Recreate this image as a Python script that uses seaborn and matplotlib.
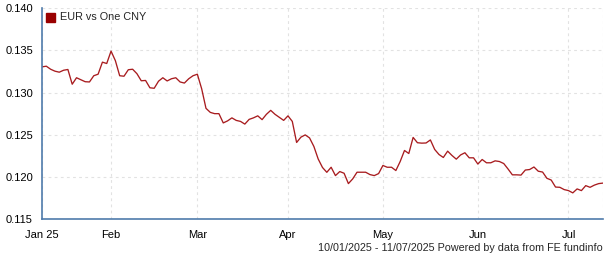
import numpy as np
import pandas as pd
import matplotlib
matplotlib.use("Agg")
import matplotlib.pyplot as plt
import seaborn as sns

# Trading days (weekdays) from 10 Jan 2025 to 11 Jul 2025
dates = pd.bdate_range("2025-01-10", "2025-07-11")

rate = [
    0.13305, 0.13313, 0.13277, 0.13254, 0.13242, 0.13265, 0.13274, 0.13099, 0.13176, 0.13152,
    0.13129, 0.13126, 0.13200, 0.13218, 0.13361, 0.13345, 0.13492, 0.13379, 0.13200, 0.13194,
    0.13271, 0.13277, 0.13224, 0.13140, 0.13144, 0.13057, 0.13051, 0.13135, 0.13176, 0.13138,
    0.13164, 0.13176, 0.13126, 0.13113, 0.13164, 0.13200, 0.13218, 0.13045, 0.12813, 0.12765,
    0.12750, 0.12750, 0.12640, 0.12664, 0.12700, 0.12670, 0.12658, 0.12626, 0.12682, 0.12700,
    0.12724, 0.12679, 0.12742, 0.12789, 0.12742, 0.12706, 0.12670, 0.12724, 0.12658, 0.12408,
    0.12471, 0.12498, 0.12462, 0.12361, 0.12212, 0.12111, 0.12054, 0.12114, 0.12015, 0.12063,
    0.12043, 0.11920, 0.11976, 0.12055, 0.12055, 0.12055, 0.12027, 0.12015, 0.12039, 0.12135,
    0.12114, 0.12114, 0.12075, 0.12182, 0.12313, 0.12277, 0.12468, 0.12405, 0.12400, 0.12402,
    0.12438, 0.12325, 0.12265, 0.12230, 0.12305, 0.12254, 0.12210, 0.12260, 0.12286, 0.12226,
    0.12226, 0.12152, 0.12206, 0.12167, 0.12167, 0.12190, 0.12182, 0.12158, 0.12093, 0.12024,
    0.12024, 0.12021, 0.12081, 0.12087, 0.12117, 0.12067, 0.12057, 0.11983, 0.11962, 0.11879,
    0.11876, 0.11849, 0.11837, 0.11810, 0.11857, 0.11837, 0.11896, 0.11876, 0.11902, 0.11920,
    0.11926,
]

series_name = "EUR vs One CNY"
x_tick_dates = ["2025-01-10", "2025-02-03", "2025-03-03", "2025-04-01",
                "2025-05-01", "2025-06-02", "2025-07-01", "2025-07-11"]
x_tick_labels = ["Jan 25", "Feb", "Mar", "Apr", "May", "Jun", "Jul", ""]
y_ticks = [0.115, 0.120, 0.125, 0.130, 0.135, 0.140]
footer = "10/01/2025 - 11/07/2025 Powered by data from FE fundinfo"

sns.set_style("white")
plt.rcParams["font.family"] = ["Liberation Sans", "DejaVu Sans"]

df = pd.DataFrame({"idx": np.arange(len(dates)), "rate": rate[:len(dates)]})

fig = plt.figure(figsize=(6.05, 2.60), dpi=100)
ax = fig.add_axes([42 / 605, 1 - 219 / 260, 561 / 605, (219 - 8.3) / 260])

line_color = "#a81c1f"
sns.lineplot(data=df, x="idx", y="rate", ax=ax, color=line_color, linewidth=0.95)

date_pos = {d.strftime("%Y-%m-%d"): i for i, d in enumerate(dates)}
xt = [date_pos[d] for d in x_tick_dates]
ax.set_xticks(xt)
ax.set_xticklabels(x_tick_labels)
ax.set_yticks(y_ticks)
ax.set_yticklabels([f"{v:.3f}" for v in y_ticks])
ax.set_xlim(0, len(dates) - 1)
ax.set_ylim(0.115, 0.140)
ax.set_xlabel("")
ax.set_ylabel("")

ax.grid(True, color="#e2e2e2", linestyle=(0, (2.5, 3)), linewidth=0.8)
ax.set_axisbelow(True)
for s in ["top", "right"]:
    ax.spines[s].set_visible(False)
for s in ["left", "bottom"]:
    ax.spines[s].set_color("#4f7bab")
    ax.spines[s].set_linewidth(1.2)

ax.tick_params(axis="both", which="major", length=5, width=1, color="#4f7bab",
               labelsize=8, labelcolor="#000000", direction="out")
ax.tick_params(axis="y", pad=1.5)
ax.tick_params(axis="x", pad=3)

# legend
ax.add_patch(plt.Rectangle((46 / 605, 1 - 21.5 / 260), 9 / 605, 9 / 260,
                           transform=fig.transFigure, color="#990000", clip_on=False))
fig.text(60 / 605, 1 - 17 / 260, series_name, fontsize=7.8, va="center", ha="left")

fig.text(603 / 605, 1 - 248 / 260, footer, fontsize=7.75, va="center", ha="right")

fig.savefig("out.png", dpi=100)
